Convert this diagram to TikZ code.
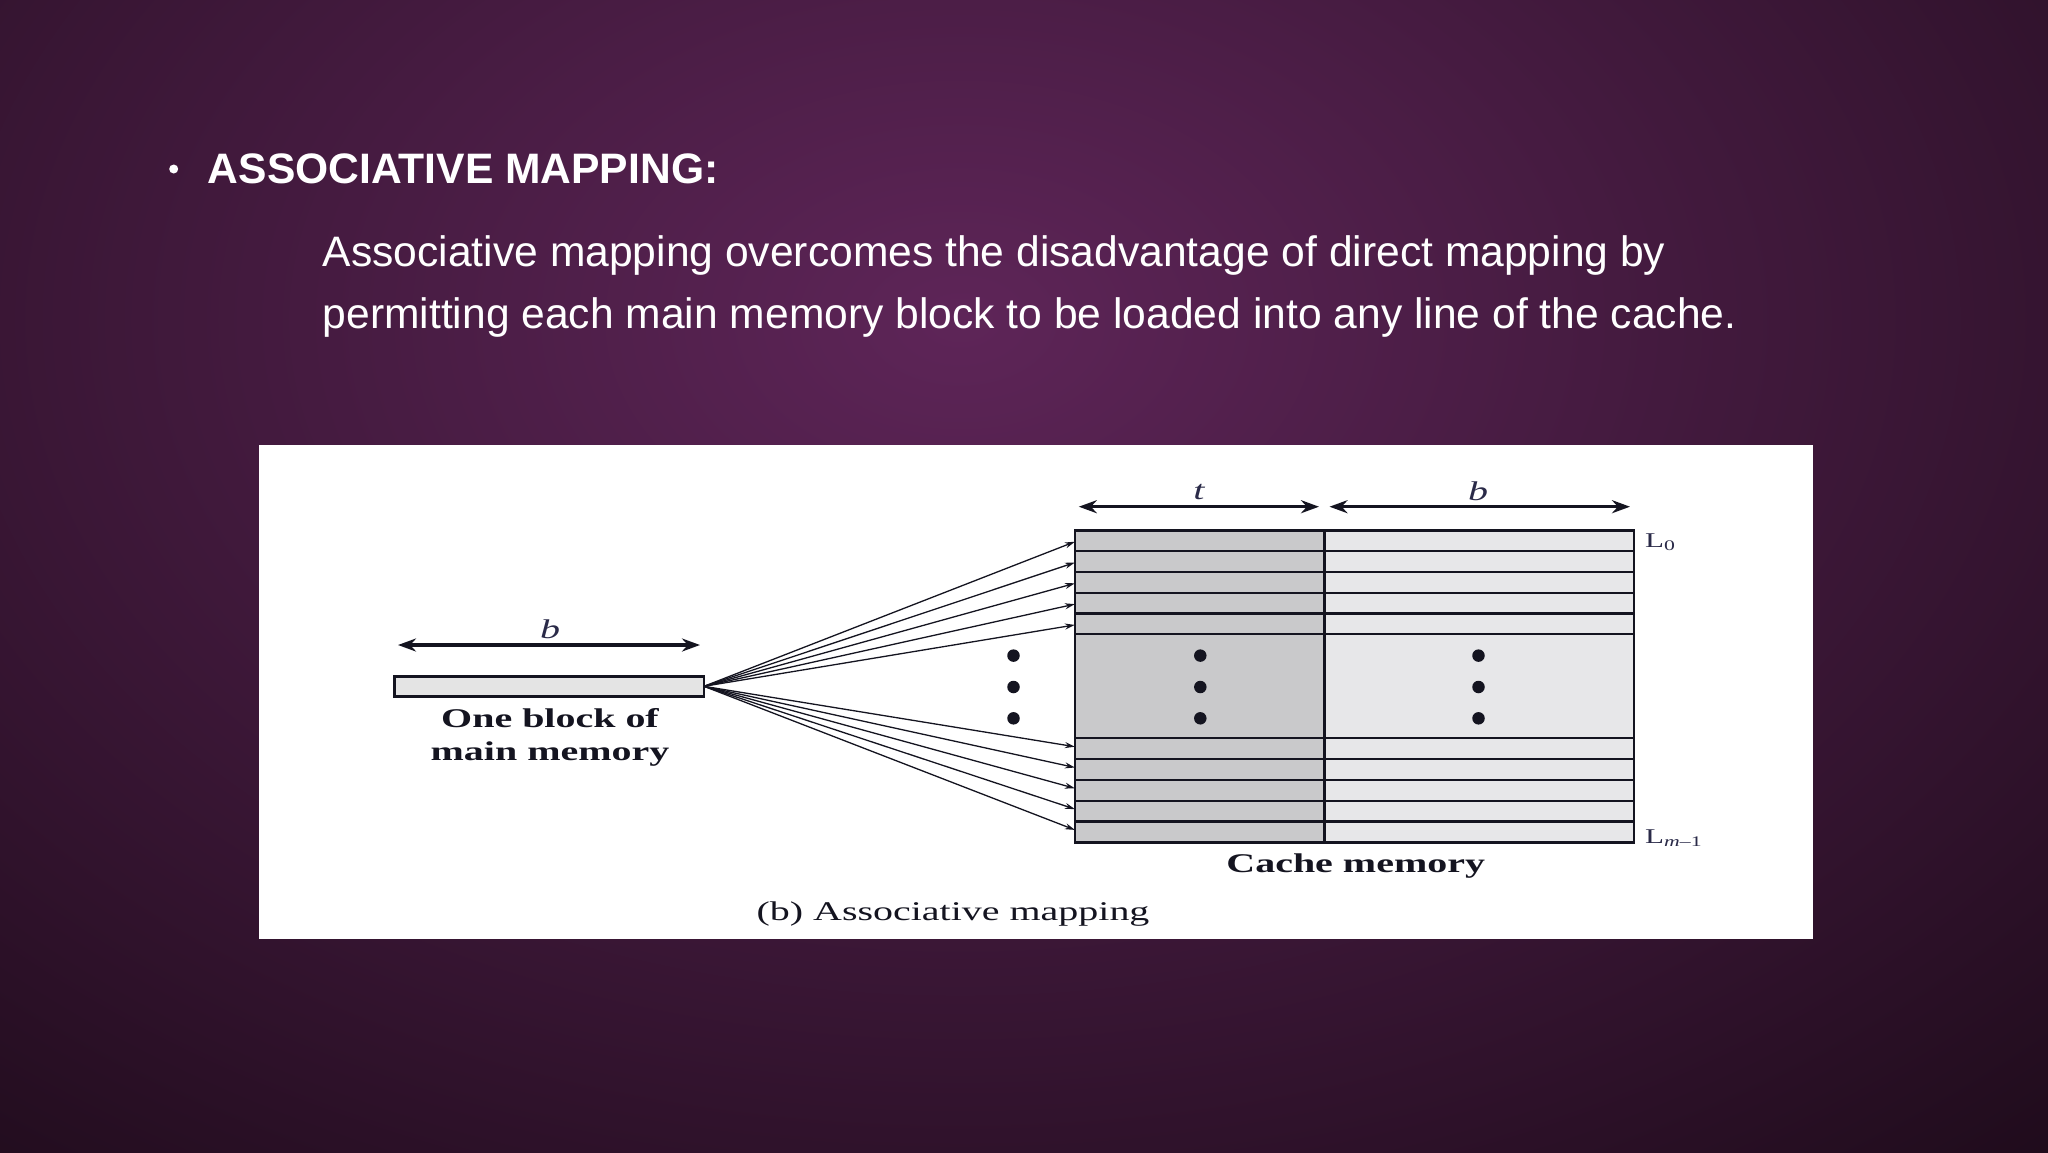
\documentclass[tikz,border=0pt]{standalone}
\usepackage{fontspec}
\setmainfont{Liberation Serif}
\setsansfont{Liberation Sans}
\usetikzlibrary{arrows.meta}
\definecolor{bgin}{HTML}{5E2558}
\definecolor{bgout}{HTML}{12060F}
\definecolor{tagfill}{HTML}{C9C9CB}
\definecolor{datafill}{HTML}{E7E7E9}
\definecolor{blockfill}{HTML}{E4E4E4}
\definecolor{ink}{HTML}{141420}
\definecolor{labink}{HTML}{2A2A48}
\tikzset{
  tagcell/.style={draw=ink, fill=tagfill, line width=2.2pt, minimum width=249.5pt, minimum height=20.8pt, inner sep=0pt, outer sep=0pt, anchor=north west},
  datacell/.style={draw=ink, fill=datafill, line width=2.2pt, minimum width=309.5pt, minimum height=20.8pt, inner sep=0pt, outer sep=0pt, anchor=north west},
  fan/.style={draw=ink, line width=1.3pt, -{Stealth[length=10pt,width=6pt]}},
  dimarrow/.style={draw=ink, line width=3.4pt, {Stealth[length=18pt,width=13pt]}-{Stealth[length=18pt,width=13pt]}},
  dot/.style={circle, fill=ink, minimum size=12.5pt, inner sep=0pt},
  figtext/.style={text=ink, inner sep=0pt},
}
\newcommand{\stretchtxt}[1]{\scalebox{1.48}[1]{#1}}
\begin{document}
\begin{tikzpicture}[x=1pt,y=-1pt]
\useasboundingbox (0,0) rectangle (2048,1152);
% background
\fill[bgout] (0,0) rectangle (2048,1152);
\begin{scope}
\clip (0,0) rectangle (2048,1152);
\shade[inner color=bgin, outer color=bgout] (960,320) ellipse (2000 and 1350);
\end{scope}
% title and paragraph
\node[circle, fill=white, minimum size=9pt, inner sep=0pt] (bullet) at (173.7,169) {};
\node[anchor=base west, inner sep=0pt, text=white, font=\sffamily\bfseries\fontsize{42.6}{50}\selectfont] (title) at (207.7,183.5) {ASSOCIATIVE MAPPING:};
\node[anchor=base west, inner sep=0pt, text=white, font=\sffamily\fontsize{42.6}{50}\selectfont] (para1) at (322.6,266) {Associative mapping overcomes the disadvantage of direct mapping by};
\node[anchor=base west, inner sep=0pt, text=white, font=\sffamily\fontsize{42.6}{50}\selectfont] (para2) at (322.6,328.7) {permitting each main memory block to be loaded into any line of the cache.};
% white panel
\fill[white] (258.6,445.4) rectangle (1812.9,939.1);
% cache rows
\foreach \i in {1,...,5}{
  \node[tagcell] (t\i) at (1074.9,{530.3+20.8*(\i-1)}) {};
  \node[datacell] (d\i) at (1324.4,{530.3+20.8*(\i-1)}) {};
  \node[tagcell] (u\i) at (1074.9,{738.3+20.8*(\i-1)}) {};
  \node[datacell] (e\i) at (1324.4,{738.3+20.8*(\i-1)}) {};
}
\node[tagcell, minimum height=104pt] (tmid) at (1074.9,634.3) {};
\node[datacell, minimum height=104pt] (dmid) at (1324.4,634.3) {};
\draw[ink, line width=2.8pt] (t1.north west) rectangle (e5.south east);
% dots
\foreach \k/\yy in {1/655.6,2/687,3/718.3}{
  \node[dot] (dl\k) at (1013.5,\yy) {};
  \node[dot] (dt\k) at (1200.3,\yy) {};
  \node[dot] (dd\k) at (1478.5,\yy) {};
}
% block of main memory
\node[draw=ink, fill=blockfill, line width=2.8pt, minimum width=309.6pt, minimum height=19.6pt, inner sep=0pt, outer sep=0pt, anchor=north west] (blk) at (394.4,676.5) {};
% fan arrows
\foreach \i in {1,...,5}{
  \draw[fan] (blk.east) -- ([yshift=-1pt]t\i.west);
  \draw[fan] (blk.east) -- ([yshift=2pt]u\i.west);
}
% dimension arrows
\coordinate (ta) at (1078.8,506.7);
\coordinate (tb) at (1319,506.7);
\coordinate (ba) at (1329.5,506.7);
\coordinate (bb) at (1630,506.7);
\coordinate (ma) at (398,645);
\coordinate (mb) at (700,645);
\draw[dimarrow] (ta) -- (tb);
\draw[dimarrow] (ba) -- (bb);
\draw[dimarrow] (ma) -- (mb);
% labels
\node[figtext, text=labink, font=\fontsize{27}{30}\selectfont\itshape] (tlab) at (1199,492) {\stretchtxt{t}};
\node[figtext, text=labink, font=\fontsize{27}{30}\selectfont\itshape] (blab) at (1478,491) {\stretchtxt{b}};
\node[figtext, text=labink, font=\fontsize{27}{30}\selectfont\itshape] (mlab) at (550,629.5) {\stretchtxt{b}};
\node[figtext, anchor=west, text=labink, font=\fontsize{21}{24}\selectfont] (l0) at (1645,542) {\stretchtxt{L\textsubscript{0}}};
\node[figtext, anchor=west, text=labink, font=\fontsize{21}{24}\selectfont] (lm) at (1645,838) {\stretchtxt{L\textsubscript{\itshape m\upshape --1}}};
\node[figtext, font=\fontsize{27}{30}\selectfont\bfseries] (blk1) at (550,718) {\stretchtxt{One block of}};
\node[figtext, font=\fontsize{27}{30}\selectfont\bfseries] (blk2) at (550,753.6) {\stretchtxt{main memory}};
\node[figtext, font=\fontsize{27}{30}\selectfont\bfseries] (cachelab) at (1355.7,866) {\stretchtxt{Cache memory}};
\node[figtext, font=\fontsize{27}{30}\selectfont] (caption) at (953,914) {\stretchtxt{(b) Associative mapping}};
\end{tikzpicture}
\end{document}
